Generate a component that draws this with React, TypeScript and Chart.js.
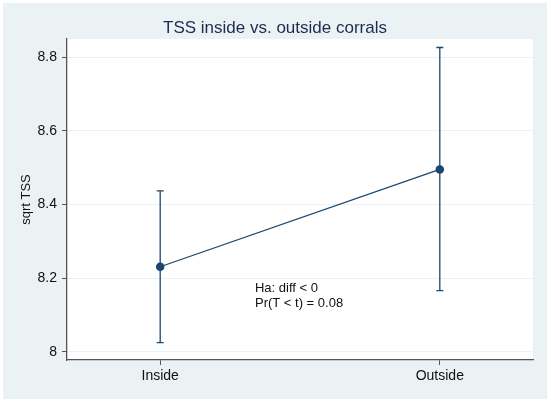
import React, { useEffect, useRef } from "react";
import { Chart, registerables } from "chart.js";

Chart.register(...registerables);

const categories = ["Inside", "Outside"];
const catPositions = [1, 2];
const means = [8.231, 8.495];
const lowerCI = [8.025, 8.166];
const upperCI = [8.437, 8.826];
const yTicks = [8, 8.2, 8.4, 8.6, 8.8];
const annotationLines = ["Ha: diff < 0", "Pr(T < t) = 0.08"];
const titleText = "TSS inside vs. outside corrals";
const yTitle = "sqrt TSS";

const LINE = "#1a476f";
const OUTER = "#eaf2f3";
const GRID = "#eaf2f3";
const AXIS = "#555555";
const FONT = "'Liberation Sans', Arial, Helvetica, sans-serif";

export default function App() {
  const ref = useRef<HTMLCanvasElement | null>(null);

  useEffect(() => {
    document.body.style.margin = "0";
    const canvas = ref.current;
    if (!canvas) return;

    const bgPlugin = {
      id: "bg",
      beforeDraw(chart: any) {
        const { ctx, width, height, chartArea } = chart;
        ctx.save();
        ctx.fillStyle = "#ffffff";
        ctx.fillRect(0, 0, width, height);
        ctx.fillStyle = OUTER;
        ctx.fillRect(3, 3, width - 6, height - 6);
        ctx.fillStyle = "#ffffff";
        ctx.fillRect(chartArea.left, chartArea.top, chartArea.right - chartArea.left, chartArea.bottom - chartArea.top);
        ctx.restore();
      },
    };

    const overlayPlugin = {
      id: "overlay",
      afterDatasetsDraw(chart: any) {
        const { ctx, scales, chartArea } = chart;
        const xs = scales.x;
        const ys = scales.y;
        ctx.save();
        ctx.strokeStyle = LINE;
        ctx.lineWidth = 1.3;
        for (let i = 0; i < catPositions.length; i++) {
          const px = xs.getPixelForValue(catPositions[i]);
          const pl = ys.getPixelForValue(lowerCI[i]);
          const pu = ys.getPixelForValue(upperCI[i]);
          ctx.beginPath();
          ctx.moveTo(px, pl);
          ctx.lineTo(px, pu);
          ctx.moveTo(px - 3.5, pl);
          ctx.lineTo(px + 3.5, pl);
          ctx.moveTo(px - 3.5, pu);
          ctx.lineTo(px + 3.5, pu);
          ctx.stroke();
        }
        // annotation text
        ctx.fillStyle = "#111111";
        ctx.font = `13px ${FONT}`;
        ctx.textBaseline = "alphabetic";
        ctx.textAlign = "left";
        const ax = xs.getPixelForValue(1.339);
        const ay = ys.getPixelForValue(8.163);
        annotationLines.forEach((t, k) => ctx.fillText(t, ax, ay + k * 15));
        // title
        ctx.fillStyle = "#1e2b4f";
        ctx.font = `17px ${FONT}`;
        ctx.textAlign = "center";
        ctx.fillText(titleText, 275, 33);
        // y title
        ctx.fillStyle = "#111111";
        ctx.font = `13px ${FONT}`;
        ctx.translate(30, (chartArea.top + chartArea.bottom) / 2);
        ctx.rotate(-Math.PI / 2);
        ctx.textAlign = "center";
        ctx.fillText(yTitle, 0, 0);
        ctx.restore();
      },
    };

    const chart = new Chart(canvas, {
      type: "line",
      data: {
        datasets: [
          {
            data: catPositions.map((x, i) => ({ x, y: means[i] })),
            borderColor: LINE,
            backgroundColor: LINE,
            borderWidth: 1.3,
            pointRadius: 3.6,
            pointBackgroundColor: LINE,
            pointBorderColor: LINE,
            tension: 0,
          },
        ],
      },
      options: {
        animation: false,
        responsive: false,
        devicePixelRatio: 1,
        layout: { padding: { left: 0, top: 39, right: 17, bottom: 0 } },
        plugins: {
          legend: { display: false },
          title: { display: false },
          tooltip: { enabled: false },
        },
        scales: {
          x: {
            type: "linear",
            min: 0.6667,
            max: 2.3333,
            afterBuildTicks(scale: any) {
              scale.ticks = catPositions.map((v) => ({ value: v }));
            },
            afterFit(scale: any) {
              scale.height = 42;
            },
            ticks: {
              callback: (v: any) => {
                const idx = catPositions.indexOf(Number(v));
                return idx >= 0 ? categories[idx] : "";
              },
              color: "#111111",
              font: { family: FONT, size: 14 },
              padding: 3,
              maxRotation: 0,
            },
            grid: { drawOnChartArea: false, tickLength: 5, tickColor: AXIS, tickWidth: 1 },
            border: { color: AXIS, width: 1.3 },
          },
          y: {
            type: "linear",
            min: 7.978,
            max: 8.849,
            afterBuildTicks(scale: any) {
              scale.ticks = yTicks.map((v) => ({ value: v }));
            },
            afterFit(scale: any) {
              scale.width = 67;
            },
            ticks: {
              callback: (v: any) => String(Math.round(Number(v) * 10) / 10),
              color: "#111111",
              font: { family: FONT, size: 14 },
              padding: 5,
            },
            grid: { color: GRID, lineWidth: 1, tickLength: 5, tickColor: AXIS, tickWidth: 1 },
            border: { color: AXIS, width: 1.3 },
          },
        },
      },
      plugins: [bgPlugin, overlayPlugin],
    } as any);

    return () => chart.destroy();
  }, []);

  return (
    <div style={{ width: 550, height: 402 }}>
      <canvas ref={ref} width={550} height={402} style={{ display: "block", width: 550, height: 402 }} />
    </div>
  );
}
